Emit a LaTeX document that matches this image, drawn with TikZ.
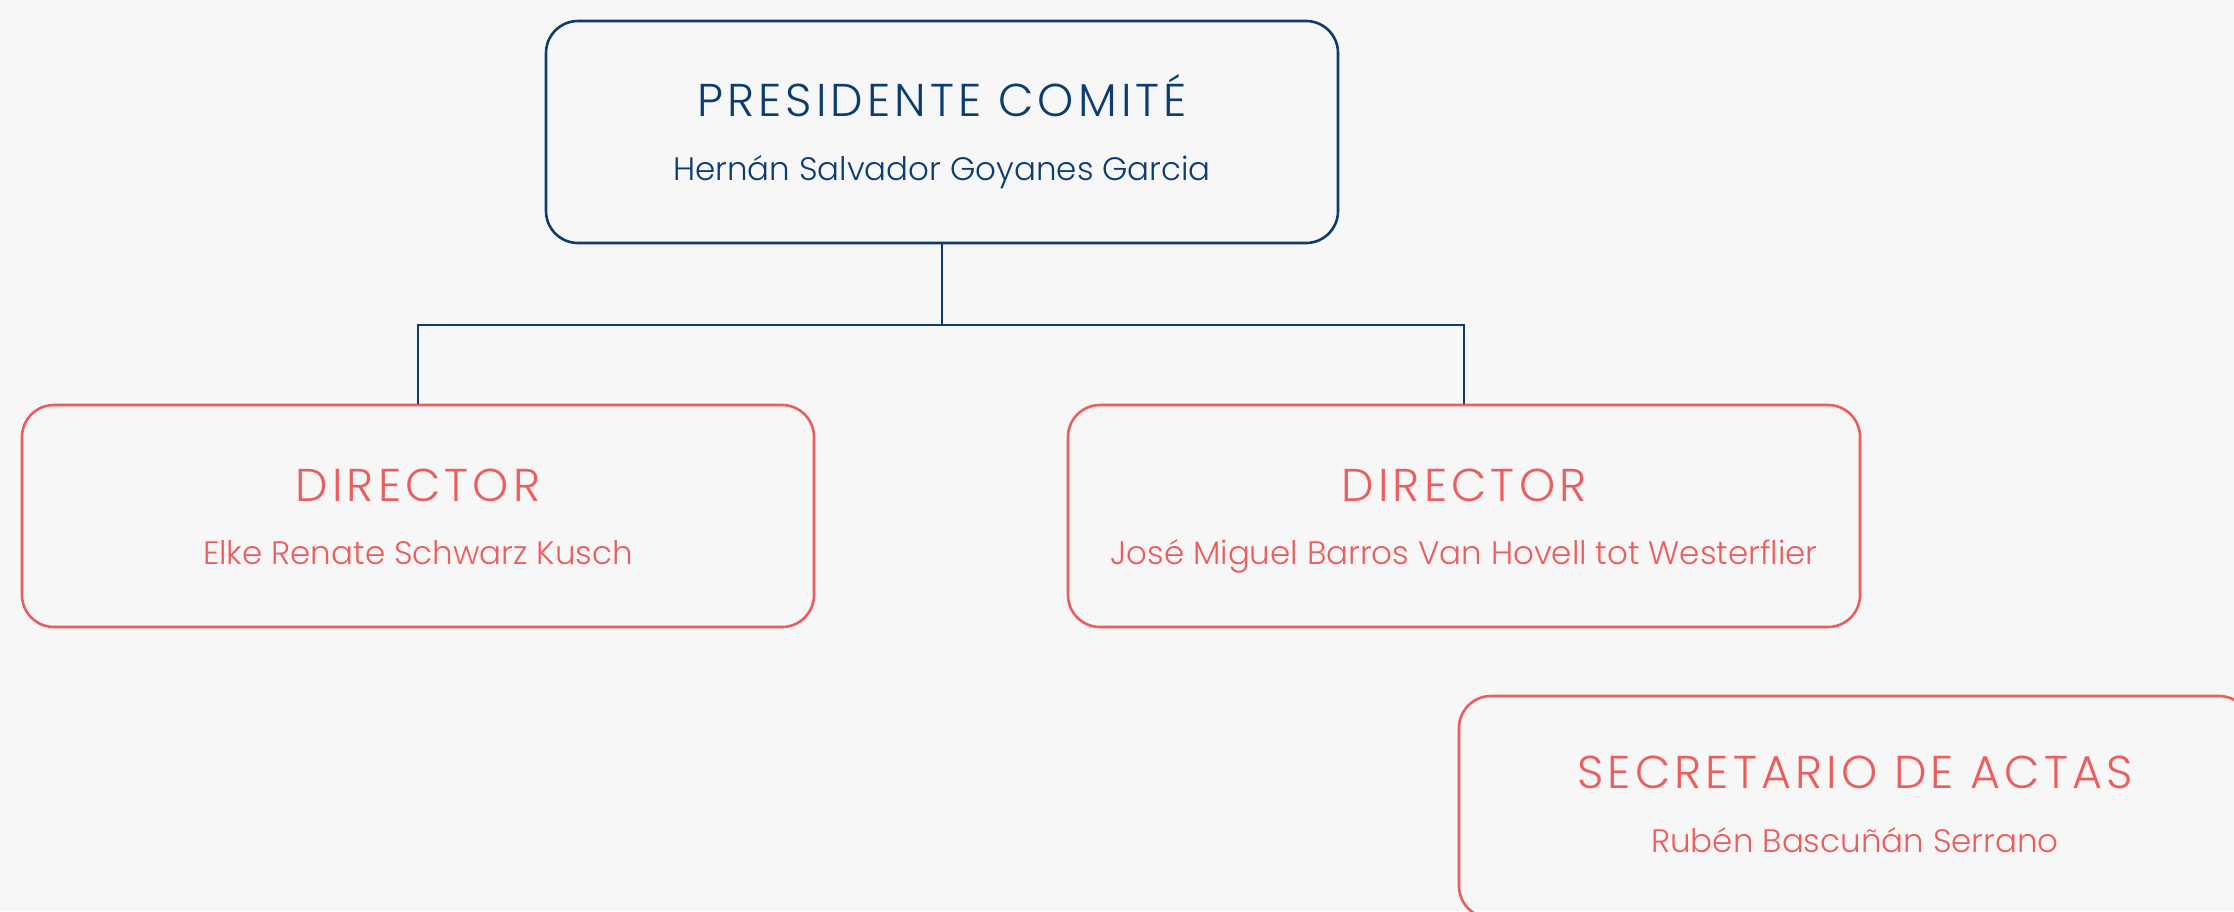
\documentclass[tikz,border=0pt]{standalone}
\usepackage{fontspec}
\setmainfont{Poppins}[UprightFont=* Light]
\newfontfamily\titlefont{Poppins}[UprightFont=* Light,LetterSpace=9]
\definecolor{bgc}{HTML}{F7F7F7}
\definecolor{navy}{HTML}{0B3D72}
\definecolor{coral}{HTML}{EE5D5D}
\tikzset{
  card/.style={draw, rectangle, rounded corners=32pt, minimum width=792pt, minimum height=222pt, line width=2.6pt, inner sep=0pt},
  ttl/.style={font=\titlefont\fontsize{46}{52}\selectfont, inner sep=0pt, anchor=base},
  nm/.style={font=\fontsize{32.5}{38}\selectfont, inner sep=0pt, anchor=base},
  link/.style={draw=navy, line width=1.4pt}
}
\begin{document}
\begin{tikzpicture}[x=1pt,y=-1pt]
\fill[bgc] (0,0) rectangle (2234,911);
\useasboundingbox (0,0) rectangle (2234,911);
\begin{scope}
\clip (0,0) rectangle (2234,911);
\node[card, draw=navy] (pres) at (942,132) {};
\node[ttl, text=navy] (presT) at (942,116) {PRESIDENTE COMITÉ};
\node[nm, text=navy] (presN) at (942,180) {Hernán Salvador Goyanes Garcia};

\node[card, draw=coral] (dirA) at (418,516) {};
\node[ttl, text=coral] (dirAT) at (418,501) {DIRECTOR};
\node[nm, text=coral] (dirAN) at (418,564) {Elke Renate Schwarz Kusch};

\node[card, draw=coral] (dirB) at (1464,516) {};
\node[ttl, text=coral] (dirBT) at (1464,501) {DIRECTOR};
\node[nm, text=coral] (dirBN) at (1464,564) {José Miguel Barros Van Hovell tot Westerflier};

\node[card, draw=coral] (sec) at (1855,807) {};
\node[ttl, text=coral] (secT) at (1855,788) {SECRETARIO DE ACTAS};
\node[nm, text=coral] (secN) at (1855,852) {Rubén Bascuñán Serrano};

\coordinate (bus) at (942,325);
\draw[link] (pres.south) -- (bus);
\draw[link] (dirA.north) -- (dirA.north |- bus) -- (dirB.north |- bus) -- (dirB.north);
\end{scope}
\end{tikzpicture}
\end{document}
